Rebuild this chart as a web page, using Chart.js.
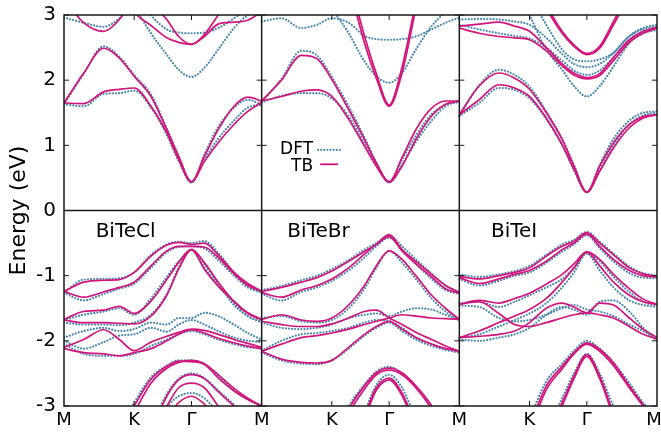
<!DOCTYPE html>
<html>
<head>
<meta charset="utf-8">
<script src="https://cdn.jsdelivr.net/npm/chart.js@4.4.0/dist/chart.umd.min.js"></script>
<style>
  html, body { margin: 0; padding: 0; background: #fff; }
</style>
</head>
<body>
<canvas id="bands" width="661" height="437"></canvas>
<script>
// k-path sample positions inside each panel (M - K - Γ - M)
const KPATH = [0, 0.1, 0.2, 0.28, 0.355, 0.44, 0.52, 0.58, 0.645, 0.71, 0.78, 0.86, 0.93, 1.0];
const TICK_FRAC = [0, 0.355, 0.645];
const TICK_NAMES = ['M', 'K', 'Γ'];
const MATERIALS = ['BiTeCl', 'BiTeBr', 'BiTeI'];
const MAT_X = [0.16, 0.13, 0.16];
const Y_TICKS = [-3, -2, -1, 0, 1, 2, 3];
const _ = null;

// BiTeCl
const TB_CL = [
  [1.65, 2.11, 2.49, 2.34, 2.06, 1.75, 1.24, 0.83, 0.44, 0.83, 1.24, 1.60, 1.74, 1.68],
  [1.65, 1.64, 1.82, 1.86, 1.88, 1.60, 1.19, 0.78, 0.44, 0.75, 1.04, 1.32, 1.52, 1.66],
  [3.25, 2.88, 2.75, 2.93, 3.3, _, _, _, _, _, _, _, _, _],
  [_, _, _, 3.5, 3.05, 2.84, 2.65, 2.58, 2.55, 2.67, 2.86, 2.89, 2.92, 3.05],
  [_, _, _, _, 3.6, 3.2, 2.93, 2.67, 2.55, 2.70, 3.0, 3.4, _, _],
  [-1.24, -1.1, -1.07, -1.06, -0.95, -0.7, -0.53, -0.49, -0.52, -0.5, -0.68, -0.95, -1.12, -1.24],
  [-1.24, -1.33, -1.25, -1.18, -1.1, -0.85, -0.62, -0.55, -0.55, -0.56, -0.72, -0.97, -1.15, -1.24],
  [-1.67, -1.55, -1.53, -1.47, -1.58, -1.39, -1.06, -0.8, -0.6, -0.9, -1.16, -1.39, -1.57, -1.67],
  [-1.68, -1.72, -1.72, -1.73, -1.74, -1.62, -1.3, -0.9, -0.6, -0.8, -1.1, -1.4, -1.58, -1.68],
  [-2.1, -1.98, -1.83, -1.98, -2.15, -2.02, -1.93, -1.87, -1.82, -1.84, -1.9, -1.98, -2.04, -2.1],
  [-2.12, -2.18, -2.2, -2.23, -2.18, -2.12, -2.0, -1.9, -1.83, -1.88, -1.96, -2.03, -2.08, -2.12],
  [_, _, _, -3.4, -3.0, -2.59, -2.39, -2.31, -2.32, -2.36, -2.57, -2.77, -2.9, -3.0],
  [_, _, _, -3.5, -3.1, -2.65, -2.42, -2.33, -2.3, -2.35, -2.52, -2.73, -2.88, -3.0],
  [_, _, _, _, _, -3.4, -2.85, -2.6, -2.52, -2.58, -2.78, -3.0, -3.2, _],
  [_, _, _, _, _, _, -3.0, -2.72, -2.65, -2.72, -3.0, -3.3, _, _],
  [_, _, _, _, _, _, -3.2, -2.95, -2.85, -2.97, -3.2, _, _, _]
];
const DFT_CL = [
  [1.63, 2.1, 2.52, 2.36, 2.08, 1.78, 1.26, 0.84, 0.43, 0.86, 1.28, 1.58, 1.7, 1.62],
  [1.63, 1.6, 1.79, 1.8, 1.84, 1.58, 1.16, 0.76, 0.43, 0.78, 1.1, 1.38, 1.58, 1.62],
  [2.96, 2.88, 2.82, 2.95, 3.2, _, _, _, _, _, _, _, _, _],
  [_, _, _, 3.6, 3.15, 2.72, 2.39, 2.16, 2.05, 2.19, 2.47, 2.8, 3.0, 3.1],
  [_, _, _, _, 3.4, 3.0, 2.78, 2.73, 2.72, 2.73, 2.8, 2.95, 3.1, 3.3],
  [-1.26, -1.06, -1.05, -1.04, -0.95, -0.68, -0.52, -0.48, -0.5, -0.47, -0.65, -0.95, -1.15, -1.26],
  [-1.26, -1.38, -1.28, -1.2, -1.12, -0.88, -0.64, -0.56, -0.55, -0.58, -0.76, -1.0, -1.18, -1.26],
  [-1.68, -1.6, -1.55, -1.5, -1.6, -1.35, -1.02, -0.78, -0.6, -0.88, -1.15, -1.42, -1.62, -1.7],
  [-1.72, -1.75, -1.75, -1.76, -1.72, -1.6, -1.28, -0.88, -0.6, -0.82, -1.12, -1.45, -1.62, -1.72],
  [-1.95, -1.85, -1.8, -1.85, -1.82, -1.72, -1.75, -1.65, -1.65, -1.57, -1.62, -1.75, -1.88, -1.98],
  [-2.0, -2.12, -2.02, -1.92, -1.9, -1.8, -1.86, -1.75, -1.68, -1.75, -1.85, -1.95, -2.0, -2.02],
  [-2.05, -2.2, -2.23, -2.23, -2.2, -2.08, -1.98, -1.9, -1.85, -1.9, -1.98, -2.05, -2.1, -2.12],
  [_, _, _, -3.35, -2.95, -2.56, -2.38, -2.3, -2.3, -2.36, -2.55, -2.76, -2.9, -3.0],
  [_, _, _, _, _, -3.3, -2.82, -2.58, -2.5, -2.57, -2.76, -2.98, -3.2, _],
  [_, _, _, _, _, _, -3.0, -2.85, -2.8, -2.88, -3.1, _, _, _]
];

// BiTeBr
const TB_BR = [
  [1.68, 2.0, 2.38, 2.33, 2.01, 1.55, 1.09, 0.73, 0.44, 0.81, 1.24, 1.57, 1.68, 1.68],
  [1.68, 1.75, 1.83, 1.85, 1.75, 1.40, 0.99, 0.68, 0.44, 0.68, 1.09, 1.45, 1.63, 1.68],
  [_, _, _, _, _, 3.5, 2.57, 2.03, 1.6, 2.11, 3.1, _, _, _],
  [_, _, _, _, _, 3.6, 2.68, 2.1, 1.62, 2.2, 3.2, _, _, _],
  [-1.24, -1.18, -1.1, -1.03, -0.93, -0.78, -0.63, -0.52, -0.37, -0.6, -0.78, -0.98, -1.15, -1.26],
  [-1.26, -1.33, -1.22, -1.15, -1.05, -0.88, -0.67, -0.52, -0.40, -0.62, -0.82, -1.02, -1.2, -1.27],
  [-1.67, -1.6, -1.68, -1.7, -1.65, -1.45, -1.15, -0.85, -0.62, -0.75, -1.0, -1.3, -1.5, -1.67],
  [-1.70, -1.75, -1.78, -1.78, -1.74, -1.65, -1.55, -1.53, -1.65, -1.75, -1.87, -1.98, -2.08, -2.16],
  [-2.16, -2.05, -1.95, -1.92, -1.88, -1.82, -1.75, -1.7, -1.65, -1.6, -1.62, -1.65, -1.66, -1.67],
  [-2.16, -2.28, -2.33, -2.34, -2.3, -2.1, -1.9, -1.78, -1.7, -1.82, -1.95, -2.05, -2.12, -2.16],
  [_, _, _, _, -3.6, -3.05, -2.69, -2.49, -2.42, -2.49, -2.69, -3.0, -3.4, _],
  [_, _, _, _, -3.7, -3.12, -2.74, -2.52, -2.45, -2.52, -2.72, -3.05, -3.45, _],
  [_, _, _, _, _, _, -3.15, -2.72, -2.57, -2.8, -3.3, _, _, _],
  [_, _, _, _, _, _, -3.2, -2.76, -2.6, -2.84, -3.35, _, _, _]
];
const DFT_BR = [
  [1.66, 2.02, 2.45, 2.38, 2.05, 1.6, 1.12, 0.74, 0.43, 0.78, 1.15, 1.48, 1.62, 1.68],
  [1.66, 1.76, 1.8, 1.8, 1.72, 1.45, 1.03, 0.7, 0.43, 0.7, 1.05, 1.38, 1.6, 1.67],
  [2.9, 2.95, 2.8, 2.85, 2.95, 2.88, 2.68, 2.63, 2.62, 2.63, 2.67, 2.78, 2.88, 2.96],
  [_, _, _, _, 3.1, 2.72, 2.29, 2.06, 1.96, 2.11, 2.47, 2.83, 3.05, _],
  [-1.22, -1.16, -1.07, -1.0, -0.9, -0.76, -0.6, -0.5, -0.38, -0.55, -0.75, -0.97, -1.15, -1.25],
  [-1.28, -1.38, -1.25, -1.18, -1.08, -0.92, -0.72, -0.55, -0.42, -0.6, -0.82, -1.05, -1.22, -1.28],
  [-1.65, -1.62, -1.7, -1.72, -1.68, -1.5, -1.2, -0.88, -0.62, -0.8, -1.05, -1.35, -1.55, -1.68],
  [-1.72, -1.8, -1.82, -1.8, -1.75, -1.65, -1.6, -1.58, -1.62, -1.55, -1.5, -1.52, -1.6, -1.68],
  [-2.15, -2.0, -1.9, -1.88, -1.85, -1.8, -1.72, -1.68, -1.7, -1.8, -1.95, -2.05, -2.12, -2.17],
  [-2.18, -2.3, -2.35, -2.36, -2.3, -2.12, -1.92, -1.8, -1.72, -1.85, -1.98, -2.08, -2.14, -2.18],
  [_, _, _, _, -3.5, -3.0, -2.67, -2.47, -2.4, -2.5, -2.7, -3.0, -3.4, _],
  [_, _, _, _, _, _, -3.1, -2.68, -2.52, -2.72, -3.2, _, _, _]
];

// BiTeI
const TB_I = [
  [1.47, 1.91, 2.11, 2.03, 1.86, 1.50, 1.09, 0.68, 0.28, 0.68, 1.04, 1.32, 1.44, 1.47],
  [1.47, 1.70, 1.93, 1.88, 1.75, 1.42, 1.01, 0.63, 0.28, 0.6, 0.96, 1.27, 1.42, 1.47],
  [2.83, 2.86, 2.89, 2.83, 2.75, 2.5, 2.25, 2.11, 2.04, 2.1, 2.35, 2.62, 2.75, 2.81],
  [2.80, 2.72, 2.67, 2.65, 2.62, 2.45, 2.22, 2.08, 2.02, 2.07, 2.3, 2.58, 2.72, 2.80],
  [_, _, _, _, 3.6, 3.1, 2.72, 2.52, 2.39, 2.49, 2.85, 3.3, _, _],
  [_, _, _, _, 3.65, 3.15, 2.75, 2.54, 2.41, 2.52, 2.9, 3.35, _, _],
  [-1.01, -1.05, -1.0, -0.95, -0.88, -0.7, -0.55, -0.47, -0.34, -0.5, -0.68, -0.88, -0.97, -1.01],
  [-1.03, -1.12, -1.05, -0.98, -0.92, -0.78, -0.6, -0.5, -0.36, -0.55, -0.75, -0.92, -1.0, -1.02],
  [-1.44, -1.38, -1.42, -1.35, -1.27, -1.13, -0.98, -0.82, -0.63, -0.75, -0.98, -1.2, -1.36, -1.44],
  [-1.44, -1.4, -1.58, -1.75, -1.78, -1.72, -1.65, -1.6, -1.57, -1.6, -1.65, -1.78, -1.9, -1.97],
  [-1.95, -1.93, -1.9, -1.85, -1.72, -1.5, -1.42, -1.48, -1.57, -1.42, -1.45, -1.65, -1.82, -1.95],
  [-1.95, -1.85, -1.72, -1.62, -1.52, -1.35, -1.1, -0.88, -0.64, -0.85, -1.1, -1.3, -1.4, -1.44],
  [_, _, _, _, -3.3, -2.69, -2.39, -2.18, -2.03, -2.13, -2.34, -2.69, -2.98, -3.2],
  [_, _, _, _, -3.4, -2.75, -2.43, -2.2, -2.05, -2.16, -2.38, -2.72, -3.0, -3.25],
  [_, _, _, _, _, -3.5, -2.95, -2.54, -2.21, -2.54, -3.1, -3.5, _, _],
  [_, _, _, _, _, -3.55, -3.0, -2.58, -2.24, -2.58, -3.15, -3.55, _, _]
];
const DFT_I = [
  [1.45, 1.92, 2.16, 2.08, 1.9, 1.52, 1.1, 0.7, 0.28, 0.7, 1.1, 1.38, 1.5, 1.52],
  [1.45, 1.65, 1.88, 1.85, 1.72, 1.4, 1.0, 0.62, 0.28, 0.62, 1.0, 1.32, 1.46, 1.5],
  [2.93, 2.94, 2.93, 2.9, 2.85, 2.65, 2.4, 2.25, 2.2, 2.25, 2.42, 2.68, 2.8, 2.85],
  [_, _, _, _, 3.0, 2.47, 2.16, 1.91, 1.75, 1.91, 2.21, 2.57, 2.72, 2.77],
  [_, _, _, _, 3.3, 2.85, 2.47, 2.32, 2.29, 2.32, 2.42, 2.67, 2.78, 2.82],
  [2.85, 2.78, 2.72, 2.68, 2.64, 2.5, 2.3, 2.15, 2.08, 2.15, 2.35, 2.6, 2.74, 2.8],
  [-0.98, -1.02, -0.98, -0.93, -0.85, -0.68, -0.52, -0.45, -0.33, -0.48, -0.66, -0.86, -0.96, -1.0],
  [-1.05, -1.15, -1.08, -1.0, -0.95, -0.8, -0.63, -0.52, -0.38, -0.58, -0.78, -0.96, -1.03, -1.04],
  [-1.42, -1.4, -1.48, -1.4, -1.3, -1.18, -1.05, -0.88, -0.65, -0.78, -1.02, -1.25, -1.4, -1.46],
  [-1.46, -1.48, -1.65, -1.7, -1.68, -1.6, -1.5, -1.45, -1.52, -1.55, -1.62, -1.75, -1.85, -1.98],
  [-1.98, -2.0, -1.95, -1.9, -1.8, -1.6, -1.48, -1.52, -1.6, -1.4, -1.38, -1.55, -1.8, -2.0],
  [-1.95, -1.9, -1.78, -1.68, -1.58, -1.42, -1.18, -0.95, -0.66, -0.92, -1.18, -1.38, -1.45, -1.48],
  [_, _, _, _, -3.2, -2.62, -2.35, -2.15, -2.0, -2.12, -2.33, -2.65, -2.95, -3.15],
  [_, _, _, _, _, -3.4, -2.88, -2.5, -2.2, -2.5, -3.0, -3.4, _, _]
];

const TB_PANELS = [TB_CL, TB_BR, TB_I];
const DFT_PANELS = [DFT_CL, DFT_BR, DFT_I];

const TB_COLOR = '#d2157b';
const DFT_COLOR = '#4a87ad';

// x tick positions: M K Γ for every panel, then the closing M
const X_TICK_VALUES = [];
const X_TICK_LABELS = [];
MATERIALS.forEach((m, p) => {
  TICK_FRAC.forEach((f, i) => { X_TICK_VALUES.push(p + f); X_TICK_LABELS.push(TICK_NAMES[i]); });
});
X_TICK_VALUES.push(MATERIALS.length);
X_TICK_LABELS.push('M ');   // trailing space keeps the last M inside the canvas

function bandSets(panels, style) {
  const out = [];
  panels.forEach((bands, p) => {
    bands.forEach(b => {
      out.push(Object.assign({
        data: b.map((y, i) => ({ x: p + KPATH[i], y: y })),
        pointRadius: 0,
        fill: false,
        tension: 0.4,
        cubicInterpolationMode: 'monotone'
      }, style));
    });
  });
  return out;
}

const datasets = bandSets(TB_PANELS, { label: 'TB', borderColor: TB_COLOR, borderWidth: 1.7, order: 0 })
  .concat(bandSets(DFT_PANELS, {
    label: 'DFT', borderColor: DFT_COLOR, borderWidth: 2.2,
    borderDash: [0.01, 3.1], borderCapStyle: 'round', order: 1
  }));

// frame, panel dividers, zero line, tick marks, material names and legend
const framePlugin = {
  id: 'frame',
  afterDatasetsDraw(chart) {
    const { ctx, chartArea: a, scales: { x, y } } = chart;
    ctx.save();
    ctx.strokeStyle = '#1a1a1a';
    ctx.lineWidth = 1.5;
    ctx.strokeRect(a.left, a.top, a.right - a.left, a.bottom - a.top);
    ctx.beginPath();
    for (let p = 1; p < MATERIALS.length; p++) {
      const px = x.getPixelForValue(p);
      ctx.moveTo(px, a.top); ctx.lineTo(px, a.bottom);
    }
    const y0 = y.getPixelForValue(0);
    ctx.moveTo(a.left, y0); ctx.lineTo(a.right, y0);
    ctx.stroke();

    ctx.lineWidth = 1;
    ctx.beginPath();
    for (let p = 0; p <= MATERIALS.length; p++) {
      const px = x.getPixelForValue(p);
      Y_TICKS.forEach(v => {
        const py = y.getPixelForValue(v);
        if (p > 0) { ctx.moveTo(px - 5, py); ctx.lineTo(px, py); }
        if (p < MATERIALS.length) { ctx.moveTo(px, py); ctx.lineTo(px + 5, py); }
      });
    }
    for (let p = 0; p < MATERIALS.length; p++) {
      TICK_FRAC.slice(1).forEach(f => {
        const px = x.getPixelForValue(p + f);
        ctx.moveTo(px, a.bottom); ctx.lineTo(px, a.bottom - 5);
        ctx.moveTo(px, a.top); ctx.lineTo(px, a.top + 5);
      });
    }
    ctx.stroke();

    ctx.fillStyle = '#000';
    ctx.textAlign = 'left';
    ctx.textBaseline = 'alphabetic';
    ctx.font = '20px "DejaVu Sans"';
    MATERIALS.forEach((m, p) => {
      ctx.fillText(m, x.getPixelForValue(p + MAT_X[p]), y.getPixelForValue(-0.4));
    });

    // key
    const kx = x.getPixelForValue(1.26);
    const ky = y.getPixelForValue(0.87);
    ctx.font = '17px "DejaVu Sans"';
    ctx.textAlign = 'right';
    ctx.fillText('DFT', kx, ky);
    ctx.fillText('TB', kx, ky + 17.5);
    ctx.lineWidth = 2.2;
    ctx.strokeStyle = DFT_COLOR;
    ctx.setLineDash([0.01, 3.1]);
    ctx.lineCap = 'round';
    ctx.beginPath();
    ctx.moveTo(kx + 5, ky - 4); ctx.lineTo(kx + 28, ky - 4);
    ctx.stroke();
    ctx.setLineDash([]);
    ctx.lineCap = 'butt';
    ctx.lineWidth = 1.8;
    ctx.strokeStyle = TB_COLOR;
    ctx.beginPath();
    ctx.moveTo(kx + 7, ky + 10.5); ctx.lineTo(kx + 25, ky + 10.5);
    ctx.stroke();
    ctx.restore();
  }
};

new Chart(document.getElementById('bands'), {
  type: 'line',
  data: { datasets: datasets },
  options: {
    responsive: false,
    animation: false,
    devicePixelRatio: 1,
    layout: { padding: { top: 0, right: 4, left: 0, bottom: 0 } },
    plugins: { legend: { display: false }, tooltip: { enabled: false } },
    scales: {
      x: {
        type: 'linear', min: 0, max: MATERIALS.length,
        afterBuildTicks: s => { s.ticks = X_TICK_VALUES.map(v => ({ value: v })); },
        afterFit: s => { s.height = 31; s.paddingLeft = 0; s.paddingRight = 0; },
        ticks: {
          autoSkip: false, maxRotation: 0, padding: 4, color: '#000',
          font: { family: 'DejaVu Sans', size: 18 },
          callback: (v, i) => X_TICK_LABELS[i]
        },
        grid: { display: false, drawTicks: false },
        border: { display: false }
      },
      y: {
        min: -3, max: 3,
        afterBuildTicks: s => { s.ticks = Y_TICKS.map(v => ({ value: v })); },
        afterFit: s => { s.width = 64; s.paddingTop = 15; s.paddingBottom = 0; },
        ticks: {
          padding: 8, color: '#000',
          font: { family: 'DejaVu Sans', size: 20 },
          callback: v => String(v)
        },
        grid: { display: false, drawTicks: false },
        border: { display: false },
        title: {
          display: true, text: 'Energy (eV)', color: '#000',
          font: { family: 'DejaVu Sans', size: 22 },
          padding: { top: 6, bottom: 0 }
        }
      }
    }
  },
  plugins: [framePlugin]
});
</script>
</body>
</html>
